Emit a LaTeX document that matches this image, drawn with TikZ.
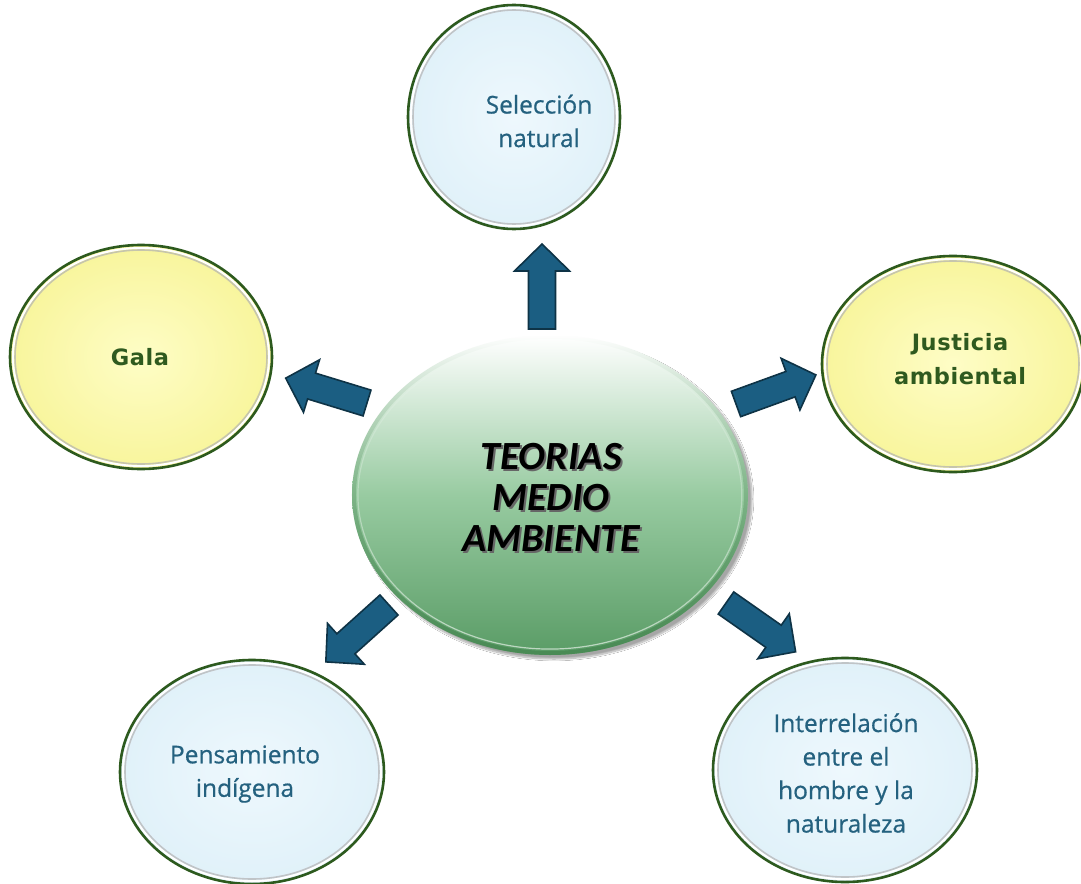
\documentclass[tikz,border=0pt]{standalone}
\usepackage{fontspec}
\usetikzlibrary{shapes.geometric,shadows.blur,fadings}
\newfontfamily\bluefont[FakeBold=0.6]{Open Sans}
\newfontfamily\galafont[LetterSpace=2.5]{DejaVu Sans}
\newfontfamily\calib{Carlito}
\definecolor{rimgreen}{HTML}{2D5A1E}
\definecolor{txtgreen}{HTML}{2F5A1F}
\definecolor{txtblue}{HTML}{24617F}
\definecolor{yin}{HTML}{FEFDC6}
\definecolor{yout}{HTML}{F8F59C}
\definecolor{bin}{HTML}{EEF8FD}
\definecolor{bout}{HTML}{E0F1F9}
\definecolor{arfill}{HTML}{1B5E82}
\definecolor{ardraw}{HTML}{0E3346}
\definecolor{gmid}{HTML}{98CBA1}
\definecolor{gbot}{HTML}{5A9C66}
\definecolor{gedge}{HTML}{3F7F4A}
\tikzset{
  bubble/.style={ellipse, draw=rimgreen, line width=2.6pt, inner sep=0pt},
  yellowb/.style={bubble, inner color=yin, outer color=yout},
  blueb/.style={bubble, inner color=bin, outer color=bout},
  ringw/.style={draw=white, line width=2pt},
  ringg/.style={draw=gray!60, line width=1.6pt, opacity=0.7},
  bluetxt/.style={text=txtblue, align=center, font=\bluefont\fontsize{24.5}{33.5}\selectfont},
  greentxt/.style={text=txtgreen, align=center, font=\galafont\bfseries\fontsize{22.5}{34}\selectfont},
  blockarrow/.style={fill=arfill, draw=ardraw, line width=1.6pt, line join=miter},
}
\newcommand\rings[3]{% name, rx, ry
  \draw[ringw] (#1.center) ellipse [x radius=#2-3, y radius=#3-3];
  \draw[ringg] (#1.center) ellipse [x radius=#2-5, y radius=#3-5];
}
\newcommand\barrowat[3]{% name, tail point, screen angle (y down)
  \coordinate (#1) at (#2);
  \begin{scope}[shift={(#1)}, rotate=-#3]
    \draw[blockarrow] (0,-13.5) -- (58,-13.5) -- (58,-27.5) -- (85,0) -- (58,27.5) -- (58,13.5) -- (0,13.5) -- cycle;
  \end{scope}
}
\begin{document}
\begin{tikzpicture}[x=1pt,y=-1pt]
\useasboundingbox (0,0) rectangle (1081,883);
\fill[white] (0,0) rectangle (1081,883);

% outer bubbles
\node[blueb, minimum width=212pt, minimum height=224pt] (sel) at (514,117) {};
\rings{sel}{106}{112}
\node[bluetxt] (selt) at (539,121) {Selección\\natural};

\node[yellowb, minimum width=262pt, minimum height=224pt] (gala) at (141,357) {};
\rings{gala}{131}{112}
\node[greentxt] (galat) at (140,357) {Gala};

\node[yellowb, minimum width=262pt, minimum height=216pt] (just) at (953,364) {};
\rings{just}{131}{108}
\node[greentxt] (justt) at (960,359) {Justicia\\ambiental};

\node[blueb, minimum width=264pt, minimum height=224pt] (pens) at (252,772) {};
\rings{pens}{132}{112}
\node[bluetxt] (penst) at (245,774) {Pensamiento\\indígena};

\node[blueb, minimum width=264pt, minimum height=224pt] (inter) at (845,770) {};
\rings{inter}{132}{112}
\node[bluetxt] (intert) at (846,773) {Interrelación\\entre el\\hombre y la\\naturaleza};

% central bubble
\node[ellipse, minimum width=396pt, minimum height=320pt, inner sep=0pt,
      top color=white, bottom color=gbot, middle color=gmid,
      blur shadow={shadow xshift=4pt, shadow yshift=-4pt, shadow opacity=35, shadow blur steps=10}] (core) at (550,495) {};
\draw[gedge, line width=4pt, opacity=0.6, path fading=north] (core.center) ellipse [x radius=196, y radius=158];
\draw[white, line width=1.2pt, opacity=0.6, path fading=north] (core.center) ellipse [x radius=192, y radius=154];
\node[text=black!60, align=center, font=\calib\bfseries\itshape\fontsize{40}{41}\selectfont] (coresh) at (553,499) {TEORIAS\\MEDIO\\AMBIENTE};
\node[text=black, align=center, font=\calib\bfseries\itshape\fontsize{40}{41}\selectfont] (coret) at (551,497) {TEORIAS\\MEDIO\\AMBIENTE};

% block arrows
\barrowat{a1}{542,329}{-90}
\barrowat{a2}{367,403}{197}
\barrowat{a3}{736,404}{-20}
\barrowat{a4}{389,605}{138}
\barrowat{a5}{726,603}{35}
\end{tikzpicture}
\end{document}
